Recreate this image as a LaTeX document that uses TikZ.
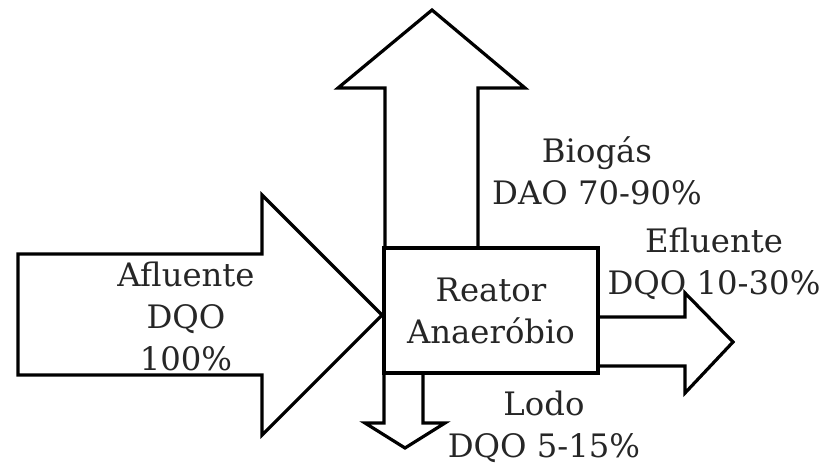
\documentclass[tikz,border=0pt]{standalone}
\usepackage{fontspec}
\setmainfont{DejaVu Serif}
\begin{document}
\begin{tikzpicture}[x=1pt,y=-1pt,
  flow/.style={draw=black,fill=white,line width=3.2pt,line join=miter},
  lbl/.style={align=center,inner sep=0pt,font=\fontsize{32.3}{42}\selectfont,text=black!85}]
\useasboundingbox (0,0) rectangle (834,467);
% inflow arrow
\draw[flow] (18,254) -- (262,254) -- (262,195) -- (382,315) -- (262,435) -- (262,375) -- (18,375) -- cycle;
% biogas arrow
\draw[flow] (385,248) -- (385,88) -- (338,88) -- (432,10) -- (525,88) -- (478,88) -- (478,248);
% effluent arrow
\draw[flow] (598,317) -- (685,317) -- (685,293) -- (733,342) -- (685,393) -- (685,366) -- (598,366);
% sludge arrow
\draw[flow] (384,373) -- (384,423) -- (365,423) -- (405,448) -- (445,423) -- (423,423) -- (423,373);
% reactor
\node[flow,rectangle,minimum width=214pt,minimum height=125pt,inner sep=0pt] (reator) at (491,310.5) {};
\node[lbl] (treator) at (reator.center) {Reator\\Anaeróbio};
\node[lbl] (tafl) at (186,316) {Afluente\\DQO\\100\%};
\node[lbl] (tbio) at (597,171) {Biogás\\DAO 70-90\%};
\node[lbl] (tefl) at (714,264) {Efluente\\DQO 10-30\%};
\node[lbl] (tlodo) at (544,427) {Lodo\\DQO 5-15\%};
\end{tikzpicture}
\end{document}
